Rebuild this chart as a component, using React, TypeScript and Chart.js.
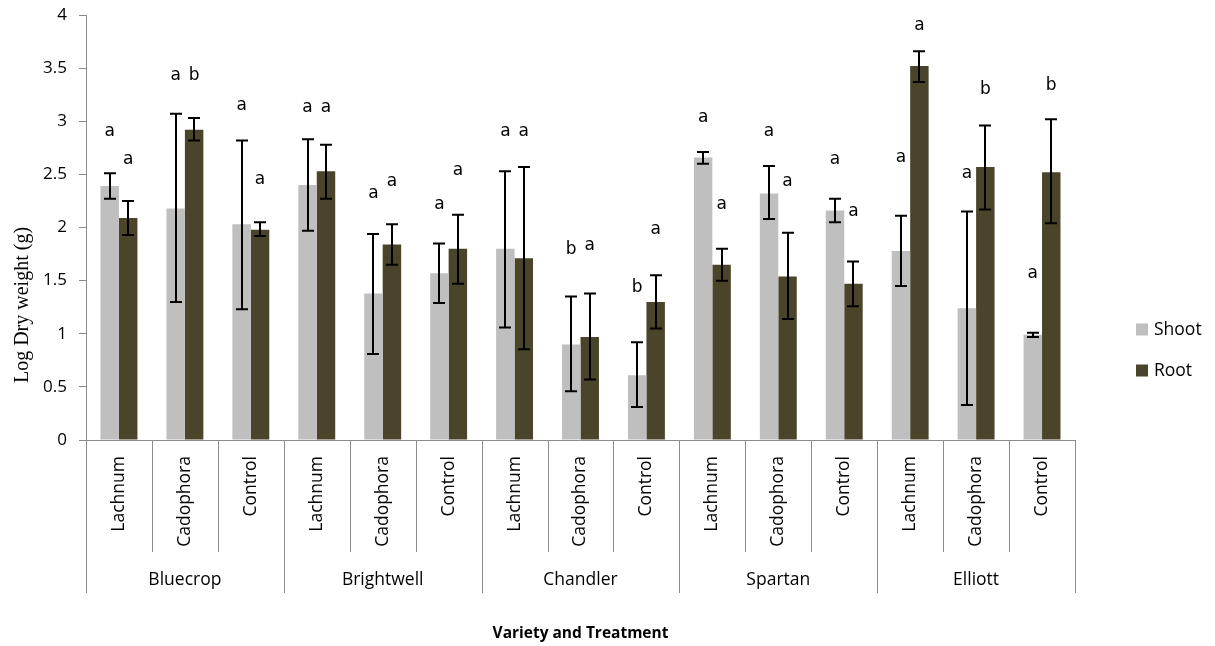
import React, { useEffect, useRef } from "react";
import { Chart, registerables } from "chart.js";

Chart.register(...registerables);

const varieties = ["Bluecrop", "Brightwell", "Chandler", "Spartan", "Elliott"];
const treatments = ["Lachnum", "Cadophora", "Control"];
const categories = varieties.flatMap((v) => treatments.map((t) => `${v} ${t}`));

const shoot = [2.39, 2.18, 2.03, 2.4, 1.38, 1.57, 1.8, 0.9, 0.61, 2.66, 2.32, 2.16, 1.78, 1.24, 0.99];
const shootHi = [2.51, 3.07, 2.82, 2.83, 1.94, 1.85, 2.53, 1.35, 0.92, 2.71, 2.58, 2.27, 2.11, 2.15, 1.01];
const shootLo = [2.27, 1.3, 1.23, 1.97, 0.81, 1.29, 1.06, 0.46, 0.31, 2.6, 2.08, 2.05, 1.45, 0.33, 0.97];
const root = [2.09, 2.92, 1.98, 2.53, 1.84, 1.8, 1.71, 0.97, 1.3, 1.65, 1.54, 1.47, 3.52, 2.57, 2.52];
const rootHi = [2.25, 3.03, 2.05, 2.78, 2.03, 2.12, 2.57, 1.38, 1.55, 1.8, 1.95, 1.68, 3.66, 2.96, 3.02];
const rootLo = [1.93, 2.82, 1.92, 2.27, 1.65, 1.47, 0.855, 0.57, 1.05, 1.5, 1.14, 1.26, 3.37, 2.17, 2.04];

const shootLetters = ["a", "a", "a", "a", "a", "a", "a", "b", "b", "a", "a", "a", "a", "a", "a"];
const shootLetterAt = [2.9, 3.43, 3.15, 3.13, 2.32, 2.22, 2.9, 1.79, 1.43, 3.03, 2.9, 2.64, 2.66, 2.51, 1.57];
const rootLetters = ["a", "b", "a", "a", "a", "a", "a", "a", "a", "a", "a", "a", "a", "b", "b"];
const rootLetterAt = [2.64, 3.43, 2.45, 3.13, 2.43, 2.54, 2.9, 1.83, 1.98, 2.22, 2.43, 2.15, 3.9, 3.3, 3.34];

const seriesNames = ["Shoot", "Root"];
const yTicks = [0, 0.5, 1, 1.5, 2, 2.5, 3, 3.5, 4];

const SHOOT_COLOR = "#bfbfbf";
const ROOT_COLOR = "#4a452a";
const AXIS_COLOR = "#8c8c8c";
const FONT = "'Open Sans', sans-serif";

const errors = [
  { hi: shootHi, lo: shootLo },
  { hi: rootHi, lo: rootLo },
];
const letters = [
  { txt: shootLetters, at: shootLetterAt },
  { txt: rootLetters, at: rootLetterAt },
];

const decorPlugin = {
  id: "decor",
  afterDatasetsDraw(chart: any) {
    const ctx = chart.ctx;
    const y = chart.scales.y;
    ctx.save();
    ctx.strokeStyle = "#000";
    ctx.lineWidth = 2;
    chart.data.datasets.forEach((_: any, di: number) => {
      const meta = chart.getDatasetMeta(di);
      meta.data.forEach((el: any, i: number) => {
        const x = Math.round(el.x);
        const yh = y.getPixelForValue(errors[di].hi[i]);
        const yl = y.getPixelForValue(errors[di].lo[i]);
        ctx.beginPath();
        ctx.moveTo(x, yh);
        ctx.lineTo(x, yl);
        ctx.moveTo(x - 6, yh);
        ctx.lineTo(x + 6, yh);
        ctx.moveTo(x - 6, yl);
        ctx.lineTo(x + 6, yl);
        ctx.stroke();
      });
    });
    ctx.fillStyle = "#000";
    ctx.font = "17px 'DejaVu Sans', sans-serif";
    ctx.textAlign = "center";
    ctx.textBaseline = "middle";
    chart.data.datasets.forEach((_: any, di: number) => {
      const meta = chart.getDatasetMeta(di);
      meta.data.forEach((el: any, i: number) => {
        ctx.fillText(letters[di].txt[i], el.x, y.getPixelForValue(letters[di].at[i]));
      });
    });
    ctx.restore();
  },
  afterDraw(chart: any) {
    const ctx = chart.ctx;
    const { left, right, bottom } = chart.chartArea;
    const n = categories.length;
    const w = (right - left) / n;
    ctx.save();
    ctx.strokeStyle = AXIS_COLOR;
    ctx.lineWidth = 1;
    ctx.beginPath();
    ctx.moveTo(left, bottom + 0.5);
    ctx.lineTo(right, bottom + 0.5);
    ctx.stroke();
    for (let k = 0; k <= n; k++) {
      const x = Math.round(left + k * w) + 0.5;
      ctx.beginPath();
      ctx.moveTo(x, bottom);
      ctx.lineTo(x, k % treatments.length === 0 ? bottom + 153 : bottom + 112);
      ctx.stroke();
    }
    ctx.fillStyle = "#000";
    ctx.font = `17.5px ${FONT}`;
    for (let i = 0; i < n; i++) {
      const cx = left + (i + 0.5) * w;
      ctx.save();
      ctx.translate(cx, bottom + 16);
      ctx.rotate(-Math.PI / 2);
      ctx.textAlign = "right";
      ctx.textBaseline = "middle";
      ctx.fillText(treatments[i % treatments.length], 0, 0);
      ctx.restore();
    }
    ctx.textAlign = "center";
    ctx.textBaseline = "middle";
    varieties.forEach((v, g) => {
      const cx = left + (g * treatments.length + treatments.length / 2) * w;
      ctx.fillText(v, cx, bottom + 140);
    });
    ctx.font = `bold 15.5px ${FONT}`;
    ctx.fillText("Variety and Treatment", (left + right) / 2, 634);
    ctx.save();
    ctx.translate(23, 305);
    ctx.rotate(-Math.PI / 2);
    ctx.font = "20px 'Liberation Serif', 'Times New Roman', serif";
    ctx.fillText("Log Dry weight (g)", 0, 0);
    ctx.restore();
    const colors = [SHOOT_COLOR, ROOT_COLOR];
    const ly = [329.5, 370.5];
    ctx.font = `17.5px ${FONT}`;
    ctx.textAlign = "left";
    seriesNames.forEach((s, i) => {
      ctx.fillStyle = colors[i];
      ctx.fillRect(1136, ly[i] - 6, 12, 12);
      ctx.fillStyle = "#000";
      ctx.fillText(s, 1154, ly[i] + 1);
    });
    ctx.restore();
  },
};

export default function App() {
  const ref = useRef<HTMLCanvasElement>(null);
  useEffect(() => {
    document.body.style.margin = "0";
    const canvas = ref.current!;
    const chart = new Chart(canvas, {
      type: "bar",
      data: {
        labels: categories,
        datasets: [
          {
            label: seriesNames[0],
            data: shoot,
            backgroundColor: SHOOT_COLOR,
            categoryPercentage: 0.56,
            barPercentage: 1,
          },
          {
            label: seriesNames[1],
            data: root,
            backgroundColor: ROOT_COLOR,
            categoryPercentage: 0.56,
            barPercentage: 1,
          },
        ],
      },
      options: {
        animation: false,
        responsive: false,
        devicePixelRatio: 1,
        layout: { padding: { left: 0, top: 15, right: 140, bottom: 206 } },
        plugins: { legend: { display: false }, tooltip: { enabled: false } },
        scales: {
          x: { display: false },
          y: {
            min: 0,
            max: 4,
            afterFit: (s: any) => {
              s.width = 86;
              s.paddingTop = 0;
              s.paddingBottom = 0;
            },
            afterBuildTicks: (s: any) => {
              s.ticks = yTicks.map((v) => ({ value: v }));
            },
            ticks: {
              font: { family: FONT, size: 17 },
              color: "#000",
              padding: 12,
              callback: (v: any) => String(v),
            },
            grid: {
              drawOnChartArea: false,
              drawTicks: true,
              tickLength: 7,
              color: AXIS_COLOR,
            },
            border: { color: AXIS_COLOR, width: 1 },
          },
        },
      },
      plugins: [decorPlugin],
    });
    return () => chart.destroy();
  }, []);
  return <canvas ref={ref} width={1215} height={646} style={{ display: "block" }} />;
}
